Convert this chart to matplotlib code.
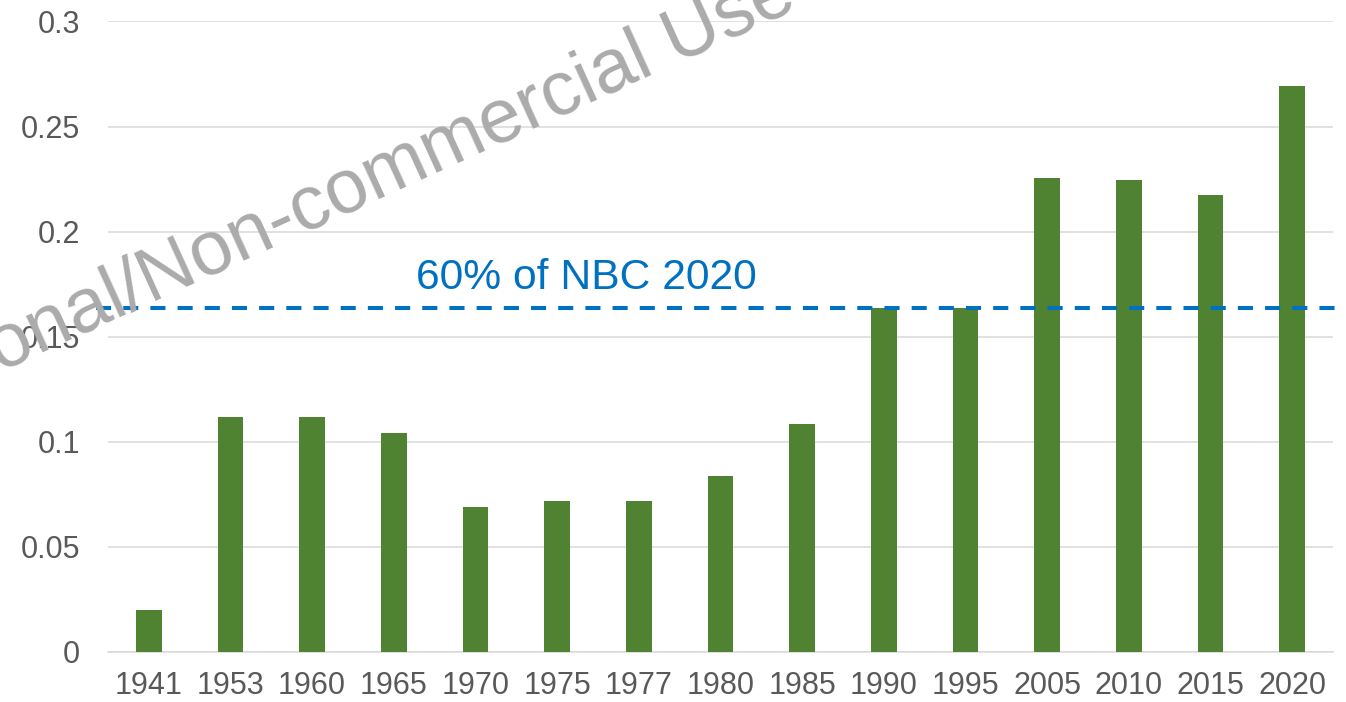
import matplotlib
matplotlib.use("Agg")
import matplotlib.pyplot as plt
import matplotlib.transforms as mtransforms

plt.rcParams['font.family'] = ['Liberation Sans', 'DejaVu Sans']

years = ["1941", "1953", "1960", "1965", "1970", "1975", "1977", "1980",
         "1985", "1990", "1995", "2005", "2010", "2015", "2020"]
values = [0.020, 0.1116, 0.1116, 0.1041, 0.0688, 0.0716, 0.0716, 0.0838,
          0.1086, 0.1638, 0.1638, 0.2257, 0.2245, 0.2175, 0.2694]
nbc_60pct = 0.1635
nbc_label = "60% of NBC 2020"
watermark = "onal/Non-commercial Use"

bar_colour = '#4f8231'
line_colour = '#0070c0'
text_grey = '#595959'

fig = plt.figure(figsize=(13.46, 7.02), dpi=100)
ax = fig.add_axes([0.0802, 0.0717, 0.9101, 0.8977])

x = range(len(years))
ax.bar(x, values, width=0.315, color=bar_colour, zorder=3)

ax.set_xlim(-0.5, len(years) - 0.5)
ax.set_ylim(0, 0.3)
ax.set_yticks([0, 0.05, 0.1, 0.15, 0.2, 0.25, 0.3])
ax.set_yticklabels(["0", "0.05", "0.1", "0.15", "0.2", "0.25", "0.3"])
ax.set_xticks(list(x))
ax.set_xticklabels(years)

ax.grid(axis='y', color='#d9d9d9', linewidth=1.1, zorder=0)
ax.set_axisbelow(True)
for side in ['top', 'right', 'left']:
    ax.spines[side].set_visible(False)
ax.spines['bottom'].set_color('#d9d9d9')
ax.spines['bottom'].set_linewidth(1.1)

ax.tick_params(axis='x', length=0, pad=14, labelsize=22, labelcolor=text_grey)
ax.tick_params(axis='y', length=0, pad=20, labelsize=22, labelcolor=text_grey)

# dashed threshold line runs a little past the plot area on both sides
trans = mtransforms.blended_transform_factory(ax.transAxes, ax.transData)
ax.plot([-0.0098, 1.011], [nbc_60pct, nbc_60pct], transform=trans,
        color=line_colour, linewidth=2.9, dashes=(3.75, 3), clip_on=False, zorder=4)
ax.text(0.2518, 0.1726, nbc_label, transform=trans, color=line_colour,
        fontsize=30.7, ha='left', va='baseline', zorder=5)

# watermark
fig.text(0.0, 0.470, watermark, color='#ababab', fontsize=55,
         rotation=24.5, rotation_mode='anchor', ha='left', va='baseline', zorder=10)

fig.savefig("out.png", dpi=100)
